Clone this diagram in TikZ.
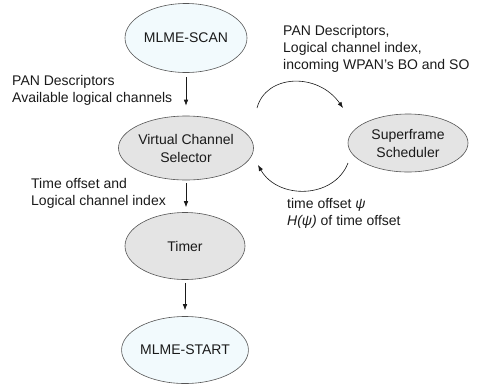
\documentclass[tikz,border=0pt]{standalone}
\usepackage{fontspec}
\setmainfont{Liberation Sans}
\usetikzlibrary{shapes.geometric,arrows.meta}
\definecolor{txt}{HTML}{1A1A1A}
\definecolor{bord}{HTML}{555555}
\definecolor{paleblue}{HTML}{F2FAFD}
\definecolor{greyfill}{HTML}{E4E4E4}
\tikzset{
  ell/.style={ellipse, draw=bord, line width=0.6pt, inner sep=0pt, align=center, text=txt,
    font=\fontsize{14}{18}\selectfont},
  mlme/.style={ell, fill=paleblue},
  proc/.style={ell, fill=greyfill},
  lbl/.style={anchor=north west, inner sep=0pt, align=left, text=txt,
    font=\fontsize{14}{17}\selectfont},
  arr/.style={draw=txt, line width=0.6pt, -{Latex[length=6pt,width=4.5pt]}},
}
\begin{document}
\begin{tikzpicture}[x=1pt,y=-1pt]
\useasboundingbox (0,0) rectangle (479,384);
\node[mlme, minimum width=122pt, minimum height=69pt] (scan) at (186,38) {MLME-SCAN};
\node[proc, minimum width=124pt, minimum height=64pt] (vcs) at (186,148) {Virtual Channel\\Selector};
\node[proc, minimum width=120pt, minimum height=58pt] (ss) at (408,143) {Superframe\\Scheduler};
\node[proc, minimum width=120pt, minimum height=67pt] (timer) at (185,246) {Timer};
\node[mlme, minimum width=120pt, minimum height=67pt] (start) at (185,350) {MLME-START};

\draw[arr, shorten <=4pt, shorten >=10pt] (scan.south) -- (scan.south |- vcs.north);
\draw[arr, shorten <=3pt, shorten >=5pt] (vcs.south) -- (vcs.south |- timer.north);
\draw[arr, shorten <=3pt, shorten >=6pt] (timer.south) -- (timer.south |- start.north);

\coordinate (t1) at (257,108);
\coordinate (t2) at (343,108);
\coordinate (b1) at (348,163);
\coordinate (b2) at (258,165);
\draw[arr] (t1) .. controls (266,74) and (318,72) .. (t2);
\draw[arr] (b1) .. controls (334,199) and (278,200) .. (b2);

\node[lbl] (la) at (12,75) {PAN Descriptors\\Available logical channels};
\node[lbl] (lb) at (283,25) {PAN Descriptors,\\Logical channel index,\\incoming WPAN’s BO and SO};
\node[lbl] (lc) at (31,178) {Time offset and\\Logical channel index};
\node[lbl] (ld) at (287,198) {time offset \textit{ψ}\\\textit{H(ψ)} of time offset};
\end{tikzpicture}
\end{document}
